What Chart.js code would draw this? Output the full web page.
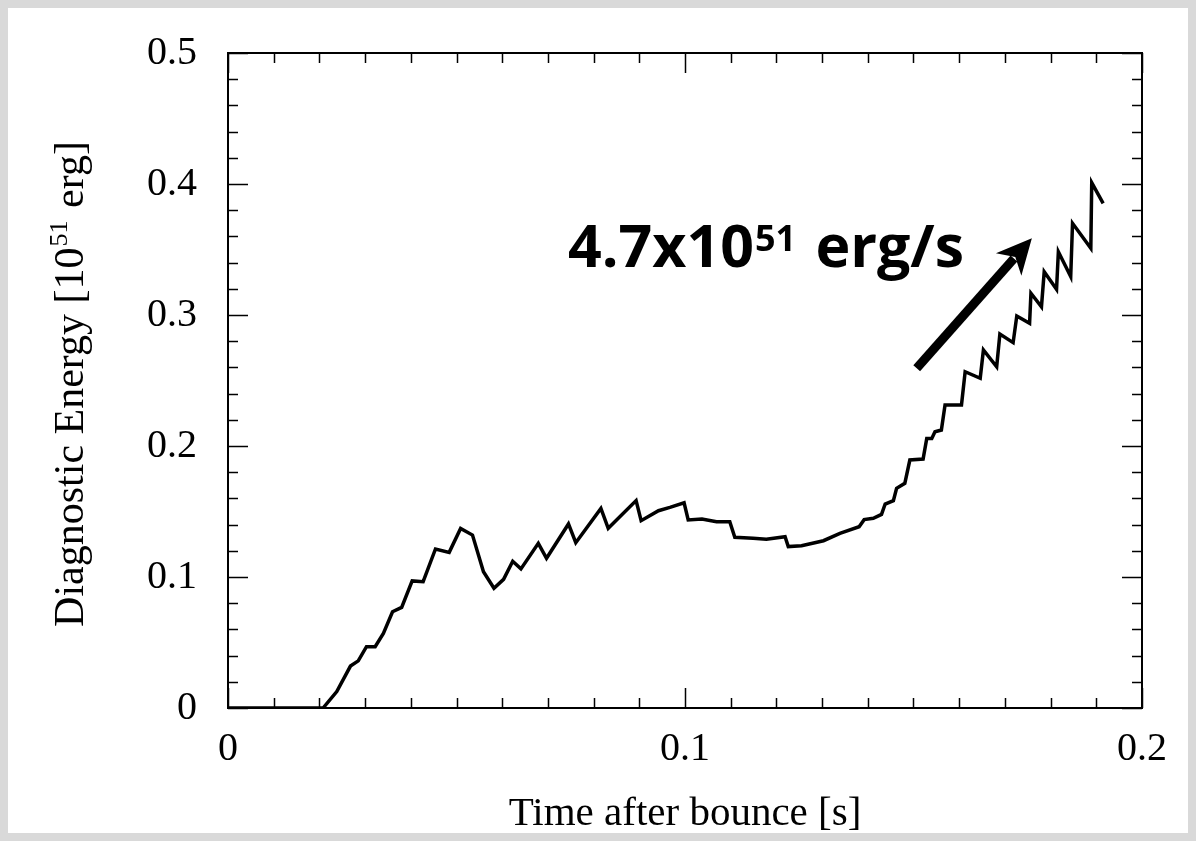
<!DOCTYPE html>
<html lang="en">
<head>
    <meta charset="UTF-8">
    <title>Diagnostic Energy</title>
    <script src="https://cdn.jsdelivr.net/npm/chart.js"></script>
    <style>
        html, body {
            margin: 0;
            padding: 0;
            background-color: #d9d9d9;
        }
        .frame {
            position: absolute;
            left: 8px;
            top: 8px;
            width: 1180px;
            height: 825px;
            background-color: #ffffff;
        }
        canvas {
            display: block;
        }
    </style>
</head>
<body>
    <div class="frame">
        <canvas id="energyChart" width="1180" height="825"></canvas>
    </div>

    <script>
        // time after bounce [s] and diagnostic energy [1e51 erg]
        const timeValues = [
            0, 0.0208, 0.0238, 0.0268, 0.0285, 0.0303, 0.0322, 0.034, 0.036, 0.038,
            0.0403, 0.0427, 0.0454, 0.0484, 0.0509, 0.0535, 0.0559, 0.0582, 0.0603, 0.0623,
            0.0641, 0.0679, 0.0697, 0.0745, 0.0761, 0.0816, 0.0832, 0.0893, 0.0904, 0.0942,
            0.0967, 0.0998, 0.1007, 0.1037, 0.1069, 0.1098, 0.1109, 0.1149, 0.1178, 0.1219,
            0.1226, 0.1255, 0.1303, 0.1339, 0.1381, 0.1392, 0.1412, 0.143, 0.1438, 0.1456,
            0.1463, 0.1481, 0.1492, 0.1521, 0.1529, 0.154, 0.1547, 0.1561, 0.1569, 0.1605,
            0.1613, 0.1646, 0.1653, 0.1682, 0.1689, 0.1718, 0.1726, 0.1754, 0.1757, 0.178,
            0.1786, 0.1813, 0.1817, 0.1844, 0.1848, 0.1888, 0.189, 0.1915
        ];
        const energyValues = [
            0, 0, 0.0125, 0.032, 0.036, 0.0468, 0.0468, 0.057, 0.0735, 0.0768,
            0.097, 0.0964, 0.1214, 0.1188, 0.137, 0.132, 0.104, 0.0914, 0.0982, 0.112,
            0.1062, 0.1257, 0.1143, 0.1405, 0.1262, 0.1524, 0.1372, 0.1583, 0.143, 0.1506,
            0.1532, 0.1567, 0.1435, 0.1443, 0.1422, 0.1422, 0.1303, 0.1295, 0.1288, 0.1308,
            0.1232, 0.1239, 0.1277, 0.1333, 0.1384, 0.1438, 0.1448, 0.1478, 0.1557, 0.1583,
            0.1677, 0.1715, 0.1893, 0.19, 0.2058, 0.2058, 0.2109, 0.2122, 0.2313, 0.2313,
            0.2567, 0.2517, 0.2733, 0.2605, 0.2855, 0.2789, 0.2992, 0.2937, 0.3166, 0.3063,
            0.333, 0.3196, 0.3483, 0.3293, 0.37, 0.3509, 0.401, 0.3852
        ];
        const xTickLabels = ['0', '0.1', '0.2'];
        const yTickLabels = ['0', '0.1', '0.2', '0.3', '0.4', '0.5'];
        const xTitle = 'Time after bounce [s]';
        const yTitleParts = ['Diagnostic Energy [10', '51', ' erg]'];
        const rateLabelParts = ['4.7x10', '51', ' erg/s'];

        const serif = '"Liberation Serif", "Times New Roman", serif';
        const sans = '"Open Sans", "Noto Sans", sans-serif';

        const points = timeValues.map((t, i) => ({ x: t, y: energyValues[i] }));

        // box with inward ticks on all four sides
        const frameTicks = {
            id: 'frameTicks',
            afterDatasetsDraw(chart) {
                const { ctx, chartArea: a, scales: { x, y } } = chart;
                ctx.save();
                ctx.strokeStyle = '#000';
                ctx.lineWidth = 1.5;
                ctx.beginPath();
                for (let i = 0; i <= 20; i++) {
                    const px = Math.round(x.getPixelForValue(i / 100)) + 0.5;
                    const len = i % 10 === 0 ? 20 : 10;
                    ctx.moveTo(px, a.bottom);
                    ctx.lineTo(px, a.bottom - len);
                    ctx.moveTo(px, a.top);
                    ctx.lineTo(px, a.top + len);
                }
                for (let i = 0; i <= 25; i++) {
                    const py = Math.round(y.getPixelForValue(i * 0.02)) + 0.5;
                    const len = i % 5 === 0 ? 20 : 10;
                    ctx.moveTo(a.left, py);
                    ctx.lineTo(a.left + len, py);
                    ctx.moveTo(a.right, py);
                    ctx.lineTo(a.right - len, py);
                }
                ctx.stroke();
                ctx.lineWidth = 2;
                ctx.strokeRect(a.left, a.top, a.right - a.left, a.bottom - a.top);
                ctx.restore();
            }
        };

        // axis titles with superscripts, the rate label and the arrow
        const annotations = {
            id: 'annotations',
            afterDraw(chart) {
                const { ctx, chartArea: a, scales: { x, y } } = chart;
                ctx.save();
                ctx.fillStyle = '#000';
                ctx.textBaseline = 'alphabetic';

                // x title
                ctx.font = '41px ' + serif;
                ctx.textAlign = 'center';
                ctx.fillText(xTitle, (a.left + a.right) / 2, 817);

                // y title, rotated
                ctx.textAlign = 'left';
                const big = '42px ' + serif;
                const small = '26px ' + serif;
                ctx.font = big;
                const w1 = ctx.measureText(yTitleParts[0]).width;
                const w3 = ctx.measureText(yTitleParts[2]).width;
                ctx.font = small;
                const w2 = ctx.measureText(yTitleParts[1]).width + 2;
                const total = w1 + w2 + w3;
                ctx.translate(75, (a.top + a.bottom) / 2 + 4);
                ctx.rotate(-Math.PI / 2);
                let cx = -total / 2;
                ctx.font = big;
                ctx.fillText(yTitleParts[0], cx, 0);
                cx += w1 + 1;
                ctx.font = small;
                ctx.fillText(yTitleParts[1], cx, -16);
                cx += w2;
                ctx.font = big;
                ctx.fillText(yTitleParts[2], cx, 0);
                ctx.setTransform(1, 0, 0, 1, 0, 0);

                // rate label
                let lx = x.getPixelForValue(0.0744);
                const ly = y.getPixelForValue(0.3366);
                ctx.font = 'bold 59px ' + sans;
                ctx.fillText(rateLabelParts[0], lx, ly);
                lx += ctx.measureText(rateLabelParts[0]).width + 1;
                ctx.font = 'bold 36px ' + sans;
                ctx.fillText(rateLabelParts[1], lx, ly - 16.5);
                lx += ctx.measureText(rateLabelParts[1]).width + 4;
                ctx.font = 'bold 59px ' + sans;
                ctx.fillText(rateLabelParts[2], lx, ly);

                // arrow
                const x0 = x.getPixelForValue(0.1507), y0 = y.getPixelForValue(0.2593);
                const x1 = x.getPixelForValue(0.1759), y1 = y.getPixelForValue(0.3585);
                const ang = Math.atan2(y1 - y0, x1 - x0);
                const headLen = 35, headHalf = 17, notch = 25;
                ctx.strokeStyle = '#000';
                ctx.lineWidth = 9;
                ctx.beginPath();
                ctx.moveTo(x0, y0);
                ctx.lineTo(x1 - Math.cos(ang) * (notch + 2), y1 - Math.sin(ang) * (notch + 2));
                ctx.stroke();
                ctx.translate(x1, y1);
                ctx.rotate(ang);
                ctx.beginPath();
                ctx.moveTo(0, 0);
                ctx.lineTo(-headLen, -headHalf);
                ctx.lineTo(-notch, 0);
                ctx.lineTo(-headLen, headHalf);
                ctx.closePath();
                ctx.fill();
                ctx.restore();
            }
        };

        const ctx = document.getElementById('energyChart').getContext('2d');
        new Chart(ctx, {
            type: 'scatter',
            data: {
                datasets: [{
                    label: 'Diagnostic Energy',
                    data: points,
                    showLine: true,
                    borderColor: '#000',
                    borderWidth: 3.5,
                    borderJoinStyle: 'miter',
                    pointRadius: 0,
                    tension: 0
                }]
            },
            options: {
                responsive: false,
                animation: false,
                layout: {
                    padding: { top: 45, right: 46, left: 0, bottom: 0 }
                },
                plugins: {
                    legend: { display: false },
                    tooltip: { enabled: false }
                },
                scales: {
                    x: {
                        type: 'linear',
                        min: 0,
                        max: 0.2,
                        grid: { display: false, drawTicks: false },
                        border: { display: false },
                        ticks: {
                            stepSize: 0.1,
                            padding: 17,
                            color: '#000',
                            maxRotation: 0,
                            font: { family: serif, size: 40 },
                            callback: (v, i) => xTickLabels[i]
                        },
                        afterFit: (scale) => {
                            scale.height = 125;
                            scale.paddingLeft = 0;
                            scale.paddingRight = 0;
                        }
                    },
                    y: {
                        type: 'linear',
                        min: 0,
                        max: 0.5,
                        grid: { display: false, drawTicks: false },
                        border: { display: false },
                        ticks: {
                            stepSize: 0.1,
                            padding: 31,
                            color: '#000',
                            font: { family: serif, size: 40 },
                            callback: (v, i) => yTickLabels[i]
                        },
                        afterFit: (scale) => {
                            scale.width = 220;
                            scale.paddingTop = 0;
                            scale.paddingBottom = 0;
                        }
                    }
                }
            },
            plugins: [frameTicks, annotations]
        });
    </script>
</body>
</html>
